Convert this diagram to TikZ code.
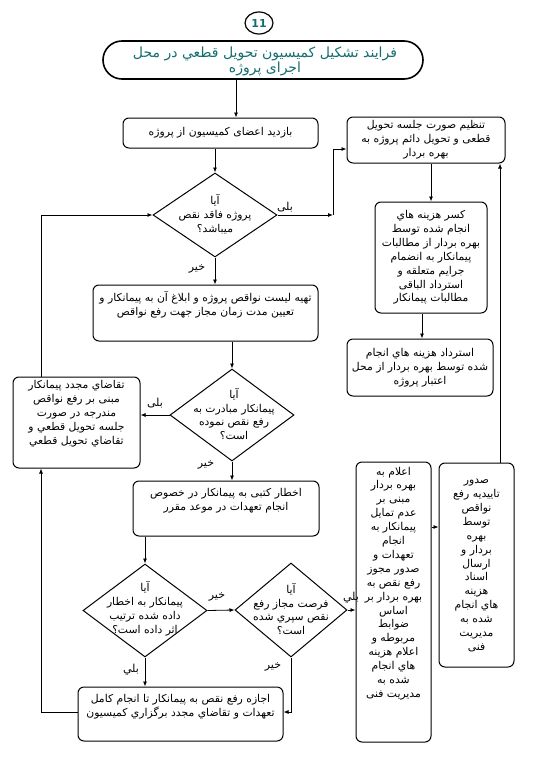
\documentclass[tikz,border=0pt]{standalone}
\usepackage{fontspec}
\setmainfont{DejaVu Sans}
\newfontfamily\arabicfont[Script=Arabic]{DejaVu Sans}
\TeXXeTstate=1
\usetikzlibrary{shapes.geometric,arrows.meta,calc}
\newcommand{\fa}[1]{\beginR #1\endR}
\definecolor{teal1}{RGB}{20,110,110}
\begin{document}
\begin{tikzpicture}[x=1pt,y=-1pt,
  box/.style={draw, line width=1pt, rounded corners=6pt, inner sep=0pt},
  dia/.style={draw, line width=1pt, diamond, inner sep=0pt, shape aspect=1.4},
  txt/.style={font=\arabicfont\fontsize{10.8}{13.9}\selectfont, align=center, inner sep=0pt},
  lbl/.style={font=\arabicfont\fontsize{11}{12}\selectfont, inner sep=0pt},
  arr/.style={line width=0.8pt, -{Latex[length=5pt,width=4pt]}},
  ln/.style={line width=0.8pt}]
\useasboundingbox (0,0) rectangle (542,768);
% header
\node[draw, line width=1.2pt, ellipse, minimum width=28pt, minimum height=22pt, inner sep=0pt,
  font=\bfseries\fontsize{11}{11}\selectfont, text=teal1] (num) at (259,23) {11};
\node[draw, line width=1.6pt, rounded corners=19pt, minimum width=320pt, minimum height=38pt, inner sep=0pt] (title) at (263,60) {};
\node[txt, text=teal1, font=\arabicfont\fontsize{14}{15}\selectfont] (titletxt) at (265,61) {\fa{فرایند تشکیل کمیسیون تحویل قطعي در محل}\\ \fa{اجرای پروژه}};
% boxes
\node[box, minimum width=195pt, minimum height=30pt] (b1) at (220.5,133) {};
\node[txt] (b1t) at (b1) {\fa{بازدید اعضای کمیسیون از پروژه}};
\node[dia, minimum width=124pt, minimum height=84pt] (d1) at (215,215) {};
\node[txt] (d1t) at (215,214) {\fa{آیا}\\ \fa{پروژه فاقد نقص}\\ \fa{میباشد؟}};
\node[box, minimum width=158pt, minimum height=46pt] (r1) at (426,140) {};
\node[txt] (r1t) at (r1) {\fa{تنظیم صورت جلسه تحویل}\\ \fa{قطعی و تحویل دائم پروژه به}\\ \fa{بهره بردار}};
\node[box, minimum width=112pt, minimum height=111pt] (r2) at (431,257.5) {};
\node[txt] (r2t) at (r2) {\fa{کسر هزینه هاي}\\ \fa{انجام شده توسط}\\ \fa{بهره بردار از مطالبات}\\ \fa{پیمانکار به انضمام}\\ \fa{جرایم متعلقه و}\\ \fa{استرداد الباقی}\\ \fa{مطالبات پیمانکار}};
\node[box, minimum width=146pt, minimum height=57pt] (r3) at (420,367.5) {};
\node[txt] (r3t) at (r3) {\fa{استرداد هزینه هاي انجام}\\ \fa{شده توسط بهره بردار از محل}\\ \fa{اعتبار پروژه}};
\node[box, minimum width=225pt, minimum height=56pt] (b2) at (205.5,313) {};
\node[txt] (b2t) at (205.5,305) {\fa{تهیه لیست نواقص پروژه و ابلاغ آن به پیمانکار و}\\ \fa{تعیین مدت زمان مجاز جهت رفع نواقص}};
\node[dia, minimum width=124pt, minimum height=92pt] (d2) at (232,415) {};
\node[txt] (d2t) at (234,414) {\fa{آیا}\\ \fa{پیمانکار مبادرت به}\\ \fa{رفع نقص نموده}\\ \fa{است؟}};
\node[box, minimum width=127pt, minimum height=91pt] (l1) at (76.5,422.5) {};
\node[txt] (l1t) at (76.5,414) {\fa{تقاضاي مجدد پیمانکار}\\ \fa{مبنی بر رفع نواقص}\\ \fa{مندرجه در صورت}\\ \fa{جلسه تحویل قطعي و}\\ \fa{تقاضاي تحویل قطعي}};
\node[box, minimum width=186pt, minimum height=55pt] (b3) at (226,508.5) {};
\node[txt] (b3t) at (226,501) {\fa{اخطار کتبی به پیمانکار در خصوص}\\ \fa{انجام تعهدات در موعد مقرر}};
\node[dia, minimum width=124pt, minimum height=93pt] (d3) at (145,610.5) {};
\node[txt] (d3t) at (145,609) {\fa{آیا}\\ \fa{پیمانکار به اخطار}\\ \fa{داده شده ترتیب}\\ \fa{اثر داده است؟}};
\node[dia, minimum width=112pt, minimum height=94pt] (d4) at (291,610) {};
\node[txt] (d4t) at (291,609) {\fa{آیا}\\ \fa{فرصت مجاز رفع}\\ \fa{نقص سپري شده}\\ \fa{است؟}};
\node[box, minimum width=205pt, minimum height=54pt] (b4) at (180.5,714) {};
\node[txt] (b4t) at (180.5,707) {\fa{اجازه رفع نقص به پیمانکار تا انجام کامل}\\ \fa{تعهدات و تقاضاي مجدد برگزاري کمیسیون}};
\node[box, minimum width=75pt, minimum height=280pt] (t1) at (393.5,602) {};
\node[txt] (t1t) at (393.5,583.5) {\fa{اعلام به}\\ \fa{بهره بردار}\\ \fa{مبنی بر}\\ \fa{عدم تمایل}\\ \fa{پیمانکار به}\\ \fa{انجام}\\ \fa{تعهدات و}\\ \fa{صدور مجوز}\\ \fa{رفع نقص به}\\ \fa{بهره بردار بر}\\ \fa{اساس}\\ \fa{ضوابط}\\ \fa{مربوطه و}\\ \fa{اعلام هزینه}\\ \fa{هاي انجام}\\ \fa{شده به}\\ \fa{مدیریت فنی}};
\node[box, minimum width=75pt, minimum height=204pt] (t2) at (476.5,565) {};
\node[txt] (t2t) at (476.5,565.5) {\fa{صدور}\\ \fa{تاییدیه رفع}\\ \fa{نواقص}\\ \fa{توسط}\\ \fa{بهره}\\ \fa{بردار و}\\ \fa{ارسال}\\ \fa{اسناد}\\ \fa{هزینه}\\ \fa{هاي انجام}\\ \fa{شده به}\\ \fa{مدیریت}\\ \fa{فنی}};
% helper coordinates
\coordinate (xa) at (236,0);
\coordinate (ca) at (333,215);
\coordinate (cb) at (333,149);
\coordinate (xl) at (41,0);
\coordinate (xd4) at (291,712);
\coordinate (xr) at (500,0);
\coordinate (xr3) at (422,0);
% connectors
\draw[arr] (title.south -| xa) -- (b1.north -| xa);
\draw[arr] (b1.south -| d1.north) -- (d1.north);
\draw[arr] (d1.east) -- (ca);
\draw[arr] (ca) -- (cb) -- (cb -| r1.west);
\draw[arr] (r1.south -| r2.north) -- (r2.north);
\draw[arr] (r2.south -| xr3) -- (r3.north -| xr3);
\draw[arr] (d1.south) -- (b2.north -| d1.south);
\draw[arr] (b2.south -| d2.north) -- (d2.north);
\draw[arr] (d2.west) -- (d2.west -| l1.east);
\draw[arr] (l1.north -| xl) |- (d1.west);
\draw[arr] (d2.south) -- (b3.north -| d2.south);
\draw[arr] (b3.south -| d3.north) -- (d3.north);
\draw[arr] (d3.east) -- (d4.west);
\draw[arr] (d4.east) -- (d4.east -| t1.west);
\draw[arr] (d4.south) -- (xd4) -- (xd4 -| b4.east);
\draw[arr] (d3.south) -- (b4.north -| d3.south);
\draw[arr] (b4.west |- xd4) -| (l1.south -| xl);
\draw[arr] (t1.east |- 0,527) -- (t2.west |- 0,527);
\draw[arr] (t2.north -| xr) -- (r1.south -| xr);
% labels
\node[lbl] (lb1) at (285,207) {\fa{بلی}};
\node[lbl] (lb2) at (197,269) {\fa{خیر}};
\node[lbl] (lb3) at (155,403) {\fa{بلی}};
\node[lbl] (lb4) at (206,465) {\fa{خیر}};
\node[lbl] (lb5) at (217,597) {\fa{خیر}};
\node[lbl] (lb6) at (351,598) {\fa{بلي}};
\node[lbl] (lb7) at (273,667) {\fa{خیر}};
\node[lbl] (lb8) at (131,670) {\fa{بلي}};
\end{tikzpicture}
\end{document}
